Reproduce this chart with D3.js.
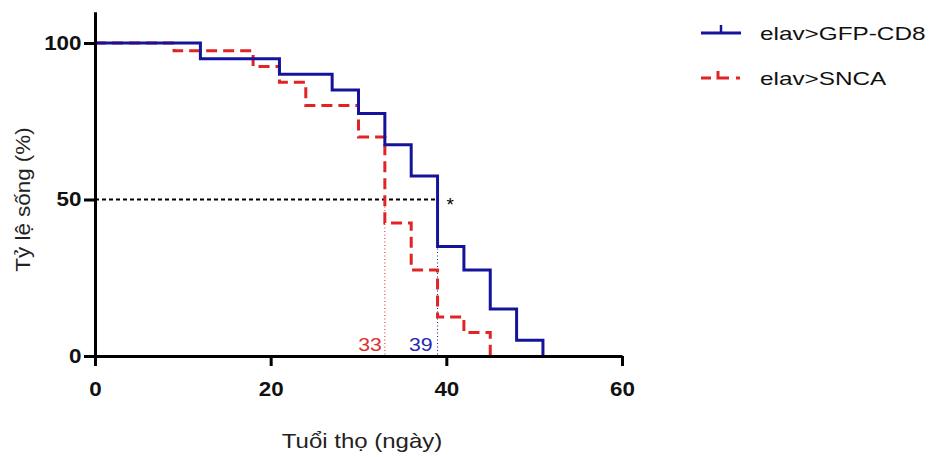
<!DOCTYPE html>
<html>
<head>
<meta charset="utf-8">
<script src="https://cdn.jsdelivr.net/npm/d3@7"></script>
<style>
  body { margin: 0; background: #fff; }
  text { font-family: "Liberation Sans", Arial, sans-serif; }
</style>
</head>
<body>
<div id="chart"></div>
<script>
var width = 932
var height = 457

// survival steps: day of drop and percent surviving after it
var gfpDays = [0, 12, 21, 27, 30, 33, 36, 39, 42, 45, 48, 51]
var gfpSurv = [100, 95, 90, 85, 77.5, 67.5, 57.5, 35, 27.5, 15, 5, 0]
var sncaDays = [0, 9, 18, 21, 24, 30, 33, 36, 39, 42, 45]
var sncaSurv = [100, 97.5, 92.5, 87.5, 80, 70, 42.5, 27.5, 12.5, 7.5, 0]
var seriesNames = ["elav>GFP-CD8", "elav>SNCA"]
var medians = [39, 33]
var xTicks = [0, 20, 40, 60]
var yTicks = [0, 50, 100]

var colors = ["#14149a", "#e02424"]
var labelColors = ["#2626b0", "#d83030"]

var svg = d3.select("#chart")
  .append("svg")
    .attr("width", width)
    .attr("height", height)

const x = d3.scaleLinear().domain([0, 60]).range([95, 622])
const y = d3.scaleLinear().domain([0, 110]).range([356, 356 - 110 * 3.13])

// the picture is a bit wider than tall, so text gets a small horizontal stretch
const sx = 1.12

// step line generator
const line = d3.line()
  .x(d => x(d[0]))
  .y(d => y(d[1]))
  .curve(d3.curveStepAfter)

function toPoints(days, surv) {
  return days.map((d, i) => [d, surv[i]])
}

function label(px, py, txt, size, anchor, fill, stretch) {
  return svg.append("text")
    .attr("transform", `translate(${px},${py}) scale(${stretch},1)`)
    .attr("text-anchor", anchor)
    .attr("font-size", size)
    .attr("fill", fill)
    .text(txt)
}

// median reference lines
svg.append("line")
  .attr("x1", x(0)).attr("x2", x(medians[0]))
  .attr("y1", y(50)).attr("y2", y(50))
  .attr("stroke", "#000").attr("stroke-width", 1.8)
  .attr("stroke-dasharray", "4,3")

svg.append("line")
  .attr("x1", x(medians[1])).attr("x2", x(medians[1]))
  .attr("y1", y(50)).attr("y2", y(0))
  .attr("stroke", colors[1]).attr("stroke-width", 1)
  .attr("stroke-dasharray", "1,2.5")

svg.append("line")
  .attr("x1", x(medians[0])).attr("x2", x(medians[0]))
  .attr("y1", y(50)).attr("y2", y(0))
  .attr("stroke", colors[0]).attr("stroke-width", 1)
  .attr("stroke-dasharray", "1,2.5")

label(x(medians[1]) - 3, 351, medians[1], 19, "end", labelColors[1], sx)
label(x(medians[0]) - 5, 351, medians[0], 19, "end", labelColors[0], sx)
label(x(medians[0]) + 9, y(50) + 11, "*", 19, "start", "#000", 1)

// curves
svg.append("path")
  .attr("d", line(toPoints(sncaDays, sncaSurv)))
  .attr("fill", "none")
  .attr("stroke", colors[1])
  .attr("stroke-width", 3)
  .attr("stroke-dasharray", "11,6")

svg.append("path")
  .attr("d", line(toPoints(gfpDays, gfpSurv)))
  .attr("fill", "none")
  .attr("stroke", colors[0])
  .attr("stroke-width", 3)

// axes
const xAxis = d3.axisBottom(x).tickValues(xTicks).tickSize(10).tickSizeOuter(0)
const yAxis = d3.axisLeft(y).tickValues(yTicks).tickSize(11).tickSizeOuter(0)

const gx = svg.append("g")
  .attr("transform", `translate(0,${y(0)})`)
  .call(xAxis)
gx.select(".domain").attr("stroke", "#000").attr("stroke-width", 3)
gx.selectAll(".tick line").attr("stroke", "#000").attr("stroke-width", 3)
gx.selectAll(".tick text")
  .attr("font-size", 20).attr("font-weight", "bold").attr("fill", "#111")
  .attr("y", 40).attr("dy", 0)
  .attr("transform", `scale(${sx},1)`)
  .attr("font-family", "Liberation Sans, Arial, sans-serif")

const gy = svg.append("g")
  .attr("transform", `translate(${x(0)},0)`)
  .call(yAxis)
gy.select(".domain").attr("stroke", "#000").attr("stroke-width", 3)
gy.selectAll(".tick line").attr("stroke", "#000").attr("stroke-width", 3)
gy.selectAll(".tick text")
  .attr("font-size", 20).attr("font-weight", "bold").attr("fill", "#111")
  .attr("x", -13.5 / sx)
  .attr("transform", `scale(${sx},1)`)
  .attr("font-family", "Liberation Sans, Arial, sans-serif")

// axis titles
label(362, 448, "Tuổi thọ (ngày)", 20, "middle", "#222", 1.2)

svg.append("text")
  .attr("transform", `translate(30,${y(50)}) rotate(-90) scale(1.12,1)`)
  .attr("text-anchor", "middle")
  .attr("font-size", 20)
  .attr("fill", "#222")
  .text("Tỷ lệ sống (%)")

// legend
const leg = svg.append("g")
var legY = [33, 78]

leg.append("line")
  .attr("x1", 701).attr("x2", 741).attr("y1", legY[0]).attr("y2", legY[0])
  .attr("stroke", colors[0]).attr("stroke-width", 3)
leg.append("line")
  .attr("x1", 721).attr("x2", 721).attr("y1", legY[0] - 8).attr("y2", legY[0])
  .attr("stroke", colors[0]).attr("stroke-width", 2.5)

leg.append("path")
  .attr("d", `M701,${legY[1]}H711 M718,${legY[1] - 7}V${legY[1]}H729 M736,${legY[1]}H740`)
  .attr("fill", "none")
  .attr("stroke", colors[1]).attr("stroke-width", 3)

seriesNames.forEach((n, i) => {
  label(760, legY[i] + 7, n, 19, "start", "#111", 1.28)
})
</script>
</body>
</html>
